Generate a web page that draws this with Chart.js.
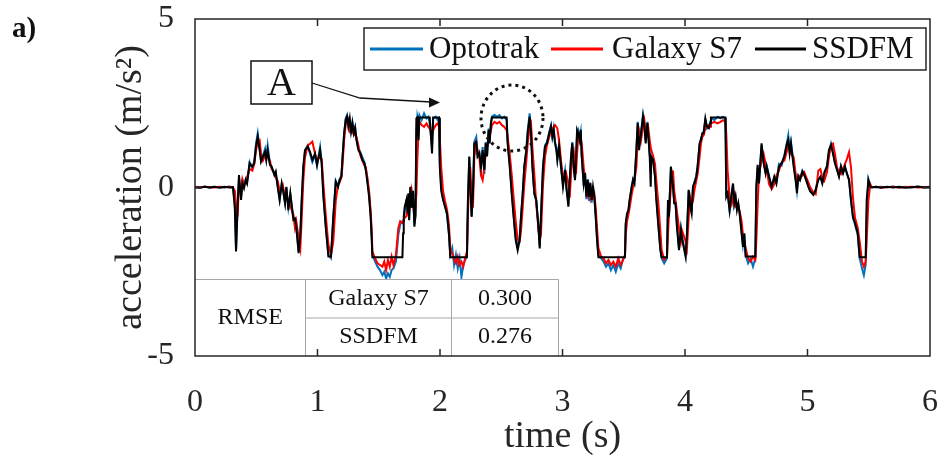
<!DOCTYPE html>
<html>
<head>
<meta charset="utf-8">
<script src="https://cdn.jsdelivr.net/npm/chart.js@4.4.1/dist/chart.umd.min.js"></script>
<style>
  html, body { margin: 0; padding: 0; background: #fff; }
  #wrap { width: 943px; height: 463px; }
</style>
</head>
<body>
<div id="wrap"><canvas id="accelChart" width="943" height="463"></canvas></div>
<script>
// time base (s) shared by the three signals
const time = [
  0.00, 0.04, 0.08, 0.12, 0.16, 0.20, 0.24, 0.28, 0.31,
  0.325, 0.335, 0.347, 0.359, 0.376, 0.387, 0.400, 0.414, 0.425, 0.446,
  0.468, 0.484, 0.498, 0.512, 0.528, 0.539, 0.555, 0.572, 0.582, 0.593,
  0.612, 0.626, 0.648, 0.659, 0.675, 0.691, 0.708, 0.718, 0.735, 0.746,
  0.762, 0.778, 0.803, 0.816, 0.827, 0.846, 0.860, 0.871, 0.884, 0.898,
  0.920, 0.939, 0.958, 0.980, 0.996, 1.021, 1.034, 1.048, 1.067, 1.089,
  1.110, 1.129, 1.149, 1.168, 1.181, 1.195, 1.203, 1.217, 1.230, 1.241,
  1.252, 1.263, 1.274, 1.285, 1.296, 1.307, 1.318, 1.334, 1.350, 1.366,
  1.383, 1.394, 1.405, 1.421, 1.434, 1.443, 1.448, 1.470, 1.490, 1.510,
  1.530, 1.545, 1.560, 1.575, 1.590, 1.605, 1.620, 1.640, 1.660, 1.675,
  1.693, 1.699, 1.704, 1.712, 1.726, 1.737, 1.742, 1.748, 1.758, 1.769,
  1.780, 1.791, 1.800, 1.807, 1.815, 1.825, 1.832, 1.850, 1.870, 1.890,
  1.905, 1.916, 1.935, 1.944, 1.965, 1.980, 1.992, 1.998, 2.010, 2.025,
  2.041, 2.057, 2.073, 2.084, 2.100, 2.115, 2.130, 2.145, 2.160, 2.175,
  2.190, 2.205, 2.220, 2.228, 2.239, 2.247, 2.258, 2.269, 2.280, 2.296,
  2.307, 2.321, 2.335, 2.348, 2.362, 2.373, 2.384, 2.397, 2.405, 2.416,
  2.424, 2.445, 2.465, 2.485, 2.505, 2.525, 2.544, 2.552, 2.569, 2.585,
  2.601, 2.618, 2.634, 2.650, 2.661, 2.675, 2.688, 2.705, 2.716, 2.732,
  2.743, 2.754, 2.770, 2.786, 2.803, 2.814, 2.824, 2.841, 2.857, 2.873,
  2.892, 2.906, 2.917, 2.928, 2.939, 2.950, 2.958, 2.972, 2.988, 3.004,
  3.021, 3.031, 3.048, 3.059, 3.070, 3.080, 3.091, 3.102, 3.110, 3.119,
  3.129, 3.140, 3.149, 3.157, 3.173, 3.184, 3.195, 3.206, 3.217, 3.227,
  3.238, 3.249, 3.260, 3.271, 3.282, 3.293, 3.315, 3.335, 3.355, 3.375,
  3.395, 3.415, 3.435, 3.455, 3.475, 3.495, 3.510, 3.516, 3.527, 3.538,
  3.548, 3.565, 3.576, 3.587, 3.603, 3.614, 3.625, 3.641, 3.657, 3.668,
  3.679, 3.693, 3.701, 3.712, 3.720, 3.725, 3.739, 3.755, 3.766, 3.783,
  3.799, 3.809, 3.830, 3.853, 3.861, 3.869, 3.885, 3.902, 3.912, 3.923,
  3.934, 3.951, 3.967, 3.978, 4.005, 4.016, 4.030, 4.043, 4.054, 4.065,
  4.076, 4.092, 4.103, 4.119, 4.130, 4.141, 4.152, 4.166, 4.179, 4.195,
  4.206, 4.212, 4.240, 4.265, 4.290, 4.310, 4.329, 4.332, 4.337, 4.348,
  4.364, 4.381, 4.392, 4.402, 4.413, 4.424, 4.435, 4.446, 4.462, 4.473,
  4.484, 4.495, 4.515, 4.535, 4.555, 4.574, 4.582, 4.593, 4.604, 4.625,
  4.642, 4.658, 4.667, 4.686, 4.707, 4.729, 4.746, 4.767, 4.789, 4.811,
  4.833, 4.843, 4.854, 4.865, 4.887, 4.903, 4.914, 4.925, 4.939, 4.958,
  4.974, 4.990, 5.007, 5.023, 5.048, 5.067, 5.088, 5.105, 5.121, 5.137,
  5.159, 5.175, 5.192, 5.208, 5.224, 5.241, 5.257, 5.273, 5.290, 5.306,
  5.322, 5.339, 5.355, 5.371, 5.388, 5.410, 5.426, 5.445, 5.460, 5.475,
  5.483, 5.497, 5.513, 5.524, 5.56, 5.60, 5.65, 5.70, 5.75, 5.80,
  5.85, 5.90, 5.95, 6.00
];

// SSDFM estimate (m/s^2), saturates near +/-2.07
const ssdfm = [
  0.01, -0.01, 0.02, 0.00, 0.02, -0.01, 0.02, 0.00, 0.01,
  -0.60, -1.90, -0.60, 0.37, -0.37, 0.12, -0.02, 0.22, 0.12, 0.72,
  0.62, 0.72, 1.21, 1.51, 1.11, 0.77, 0.92, 1.06, 0.82, 1.11,
  0.67, 0.62, 0.37, 0.47, 0.02, -0.37, 0.12, -0.07, -0.47, 0.02,
  -0.67, -0.17, -0.96, -0.92, -1.16, -1.95, -1.36, -0.37, 0.62, 1.11,
  1.21, 1.06, 0.82, 1.01, 0.67, 1.11, 0.72, -0.27, -1.16, -2.05,
  -2.05, -0.87, 0.17, 0.02, 0.22, 0.32, 0.82, 1.61, 2.00, 2.10,
  1.81, 2.05, 1.66, 1.90, 1.61, 1.76, 1.41, 1.11, 1.01, 0.82,
  0.72, 0.52, 0.22, -0.27, -0.87, -1.56, -2.07, -2.07, -2.07, -2.07,
  -2.07, -2.07, -2.07, -2.07, -2.07, -2.07, -2.07, -2.07, -2.07, -2.07,
  -2.07, -1.36, -0.87, -0.57, -0.37, -0.77, -0.17, -0.97, 0.02, -0.60,
  -0.10, -1.16, -0.80, 2.05, 2.08, 1.40, 2.08, 2.08, 2.08, 2.08,
  2.08, 2.08, 1.01, 2.08, 2.08, 2.08, 2.08, 0.62, -0.10, -0.37,
  -0.57, -0.77, -1.36, -2.07, -2.07, -2.07, -2.07, -2.07, -2.07, -2.07,
  -2.07, -2.07, -2.07, -0.37, 0.92, 0.12, -0.87, -0.17, 1.31, 1.36,
  0.92, 1.01, 0.62, 1.11, 0.52, 1.31, 0.92, 1.71, 1.31, 1.90,
  2.08, 2.08, 2.08, 2.08, 2.08, 2.08, 2.08, 1.31, 0.62, -0.17,
  -0.87, -1.56, -1.86, -1.56, -0.87, -0.17, 0.62, 1.11, 1.61, 2.10,
  1.61, 0.62, -0.17, -0.37, -1.16, -1.81, -0.87, 0.62, 1.21, 1.31,
  1.61, 1.81, 1.51, 1.71, 1.31, 1.11, 0.82, 1.21, 0.62, 0.02,
  0.52, 0.02, -0.57, 0.22, 0.92, 1.31, 0.62, 0.22, 0.82, 1.71,
  1.61, 1.41, 1.71, 0.92, 0.12, 0.42, -0.27, 0.22, -0.27, 0.12,
  -0.37, 0.02, -0.27, -0.87, -1.56, -2.07, -2.07, -2.07, -2.07, -2.07,
  -2.07, -2.07, -2.07, -2.07, -2.07, -2.07, -2.07, -1.06, -0.77, -0.67,
  -0.37, 0.02, 0.22, 0.12, 1.11, 1.91, 1.11, 1.61, 2.10, 1.81,
  1.31, 1.91, 1.51, 0.92, 0.02, 0.92, 0.82, 0.32, -0.37, -1.16,
  -1.86, -2.07, -2.07, -2.07, -0.37, -0.87, 0.62, 0.02, -0.47, -0.47,
  -1.16, -1.86, -1.26, -1.56, -2.05, -1.36, -0.07, -0.57, -0.77, 0.02,
  0.12, 0.32, 0.62, 1.31, 1.41, 1.61, 1.61, 2.05, 1.81, 1.76,
  1.91, 2.08, 2.08, 2.08, 2.08, 2.08, 2.08, 1.41, -0.27, -0.17,
  -0.67, -0.17, 0.12, -0.47, -0.27, -0.67, -0.47, -0.77, -1.36, -1.76,
  -1.36, -2.05, -2.05, -2.05, -2.05, -2.05, 0.02, 0.67, 0.12, 1.31,
  0.72, 0.42, 0.62, 0.32, 0.02, 0.32, 0.12, 0.62, 0.72, 0.92,
  1.31, 1.41, 1.01, 1.31, 0.62, 0.22, -0.17, 0.32, 0.22, 0.47,
  0.37, 0.22, 0.02, -0.12, -0.22, -0.07, 0.22, 0.32, 0.12, 0.42,
  0.62, 1.11, 1.26, 1.01, 0.72, 0.52, 0.32, 0.62, 0.42, 0.62,
  0.42, 0.22, -0.37, -0.87, -1.06, -1.36, -2.07, -2.07, -2.07, -2.07,
  -0.37, 0.22, 0.02, 0.00, 0.02, -0.01, 0.02, 0.00, 0.02, -0.01,
  0.01, 0.03, 0.00, 0.01
];

// Optotrak reference (m/s^2)
const optotrak = [
  0.02, 0.00, 0.03, -0.01, 0.02, 0.01, 0.00, 0.03, 0.00,
  -0.50, -1.85, -0.70, 0.30, -0.30, 0.15, 0.05, 0.25, 0.15, 0.75,
  0.55, 0.80, 1.30, 1.61, 1.15, 0.80, 0.95, 1.15, 0.85, 1.25,
  0.70, 0.58, 0.40, 0.45, 0.05, -0.35, 0.10, -0.05, -0.45, 0.00,
  -0.60, -0.20, -0.90, -0.95, -1.20, -1.90, -1.40, -0.40, 0.55, 1.10,
  1.25, 1.00, 0.75, 0.95, 0.65, 1.20, 0.75, -0.20, -1.10, -2.00,
  -2.10, -0.90, 0.20, 0.05, 0.25, 0.35, 0.80, 1.55, 2.05, 2.15,
  1.85, 2.00, 1.70, 1.95, 1.65, 1.80, 1.45, 1.15, 1.05, 0.90,
  0.75, 0.55, 0.30, -0.20, -0.80, -1.50, -2.00, -2.20, -2.35, -2.45,
  -2.60, -2.50, -2.70, -2.55, -2.65, -2.45, -2.40, -2.20, -1.40, -1.10,
  -1.00, -1.00, -0.95, -0.70, -0.40, -0.70, -0.20, -0.95, 0.00, -0.60,
  -0.15, -1.10, -0.85, 1.60, 2.10, 1.90, 2.15, 2.00, 2.20, 2.05,
  2.10, 1.90, 1.20, 2.05, 2.10, 2.00, 2.05, 0.80, 0.00, -0.30,
  -0.55, -0.80, -1.40, -2.00, -1.80, -2.30, -2.00, -2.40, -2.10, -2.65,
  -2.30, -2.15, -2.05, -0.40, 0.90, 0.15, -0.85, -0.20, 1.35, 1.50,
  0.95, 1.05, 0.55, 1.20, 0.40, 1.35, 0.95, 1.75, 1.35, 1.95,
  2.10, 2.15, 2.10, 2.15, 2.05, 2.10, 2.00, 1.40, 0.70, -0.10,
  -0.80, -1.50, -1.75, -1.50, -0.90, -0.20, 0.60, 1.15, 1.70, 2.20,
  1.65, 0.70, -0.20, -0.40, -1.10, -1.75, -0.90, 0.65, 1.25, 1.35,
  1.65, 1.85, 1.50, 1.75, 1.35, 1.20, 0.85, 1.25, 0.60, 0.10,
  0.50, 0.05, -0.50, 0.20, 0.95, 1.35, 0.70, 0.25, 0.80, 1.60,
  1.70, 1.45, 1.65, 0.95, 0.05, 0.45, -0.35, 0.25, -0.40, 0.15,
  -0.45, 0.05, -0.30, -0.85, -1.50, -2.00, -2.10, -2.20, -2.35, -2.25,
  -2.45, -2.30, -2.50, -2.25, -2.40, -2.10, -2.05, -1.10, -0.80, -0.70,
  -0.40, 0.05, 0.25, 0.15, 1.10, 1.95, 1.20, 1.65, 2.15, 1.85,
  1.40, 1.95, 1.55, 0.95, 0.85, 0.85, 0.85, 0.35, -0.30, -1.10,
  -1.80, -2.10, -2.25, -2.10, -0.50, -0.90, 0.60, 0.05, -0.45, -0.50,
  -1.10, -1.80, -1.20, -1.50, -2.00, -1.40, -0.10, -0.60, -0.70, 0.00,
  0.15, 0.35, 0.65, 1.25, 1.45, 1.55, 1.65, 2.00, 1.75, 1.80,
  1.95, 2.05, 2.00, 2.10, 2.05, 2.10, 2.05, 1.50, -0.20, -0.15,
  -0.70, -0.20, 0.10, -0.50, -0.30, -0.60, -0.50, -0.75, -1.30, -1.70,
  -1.40, -2.00, -2.25, -2.10, -2.35, -2.10, -0.10, 0.60, 0.15, 1.25,
  0.75, 0.45, 0.65, 0.35, 0.00, 0.30, 0.15, 0.70, 0.65, 0.95,
  1.35, 1.55, 1.10, 1.35, 0.70, 0.25, -0.10, 0.35, 0.25, 0.50,
  0.40, 0.20, 0.05, -0.10, -0.20, -0.05, 0.25, 0.30, 0.15, 0.45,
  0.65, 1.05, 1.30, 1.05, 0.75, 0.55, 0.35, 0.65, 0.45, 0.60,
  0.40, 0.25, -0.40, -0.90, -1.10, -1.40, -2.10, -2.40, -2.60, -2.30,
  -0.80, 0.25, 0.05, 0.02, 0.00, 0.02, 0.01, 0.03, -0.01, 0.02,
  0.00, 0.02, 0.01, 0.00
];

// Galaxy S7 phone sensor (m/s^2)
const galaxyS7 = [
  0.00, 0.01, 0.02, 0.01, 0.00, 0.02, 0.01, 0.02, 0.00,
  -0.10, -0.50, -0.87, 0.10, -0.10, 0.25, 0.10, 0.15, 0.30, 0.55,
  0.50, 0.70, 1.10, 1.35, 1.40, 1.00, 0.80, 0.95, 0.95, 0.90,
  0.80, 0.55, 0.45, 0.30, 0.20, -0.10, -0.05, 0.05, -0.30, -0.20,
  -0.40, -0.55, -0.80, -1.20, -1.00, -1.50, -1.80, -0.90, 0.20, 0.90,
  1.25, 1.30, 1.36, 1.00, 0.80, 0.90, 0.85, 0.10, -0.80, -1.70,
  -2.00, -1.60, -0.40, 0.10, 0.15, 0.30, 0.60, 1.40, 1.85, 2.00,
  2.05, 1.70, 1.80, 1.65, 1.75, 1.55, 1.50, 1.25, 0.95, 0.80,
  0.65, 0.60, 0.35, -0.10, -0.70, -1.30, -1.90, -2.10, -2.25, -2.30,
  -2.35, -2.20, -2.45, -2.15, -2.35, -2.05, -2.30, -2.00, -1.20, -1.00,
  -1.05, -1.00, -0.95, -0.90, -0.85, -0.60, -0.75, -0.70, -0.50, -0.10,
  -0.40, -0.90, -0.60, -0.20, 0.80, 1.70, 1.95, 1.85, 1.80, 1.90,
  1.80, 1.75, 1.60, 1.70, 1.85, 1.90, 1.80, 1.50, 0.60, -0.10,
  -0.40, -0.65, -1.10, -1.80, -1.95, -2.15, -2.25, -2.05, -2.30, -2.20,
  -2.35, -2.10, -1.90, -0.80, 0.20, 0.60, -0.20, -0.60, 0.90, 1.30,
  1.10, 0.90, 0.35, 0.22, 0.60, 1.00, 1.20, 1.40, 1.55, 1.70,
  1.85, 1.95, 1.90, 1.95, 1.85, 1.80, 1.70, 1.50, 1.00, 0.40,
  -0.30, -1.00, -1.55, -1.60, -1.30, -0.60, 0.10, 0.80, 1.30, 1.80,
  1.90, 1.20, 0.40, -0.50, -1.20, -1.55, -1.40, 0.10, 0.90, 1.25,
  1.50, 1.70, 1.75, 1.80, 1.85, 1.80, 1.75, 1.40, 0.80, 0.30,
  0.25, 0.40, 0.10, -0.30, 0.40, 1.00, 1.10, 0.60, 0.40, 1.00,
  1.50, 1.55, 1.40, 1.30, 0.60, 0.20, 0.10, -0.20, 0.00, -0.30,
  -0.10, -0.30, -0.20, -0.60, -1.20, -1.80, -2.05, -2.10, -2.25, -2.15,
  -2.30, -2.20, -2.35, -2.10, -2.30, -2.15, -2.00, -1.40, -1.00, -0.80,
  -0.60, -0.20, 0.00, 0.20, 0.60, 1.40, 1.70, 1.40, 1.80, 2.00,
  1.70, 1.60, 1.75, 1.40, 1.20, 1.10, 0.95, 0.70, 0.20, -0.50,
  -1.30, -1.85, -2.15, -2.05, -1.40, -0.80, 0.00, 0.50, -0.10, -0.40,
  -0.70, -1.20, -1.60, -1.30, -1.60, -1.80, -0.90, -0.30, -0.50, -0.40,
  -0.10, 0.20, 0.40, 0.90, 1.30, 1.50, 1.55, 1.75, 1.85, 1.85,
  1.80, 1.90, 1.95, 1.90, 1.95, 2.00, 1.95, 1.95, 1.60, 0.50,
  -0.30, -0.50, -0.30, -0.20, -0.55, -0.50, -0.60, -0.70, -1.00, -1.40,
  -1.60, -1.80, -2.10, -2.20, -2.05, -2.15, -1.60, -0.50, 0.40, 0.80,
  1.00, 0.70, 0.55, 0.10, -0.05, 0.10, 0.35, 0.50, 0.75, 0.80,
  1.10, 1.30, 1.25, 1.00, 0.90, 0.40, 0.20, 0.20, 0.35, 0.35,
  0.45, 0.30, 0.15, 0.00, -0.15, -0.20, 0.50, 0.55, 0.30, 0.20,
  0.45, 0.90, 1.25, 1.30, 1.00, 0.60, 0.45, 0.40, 0.55, 0.70,
  0.85, 1.05, 0.60, -0.30, -0.90, -1.20, -1.60, -2.20, -2.35, -2.20,
  -1.60, -0.40, 0.10, 0.01, 0.02, 0.00, 0.01, 0.02, 0.00, 0.01,
  0.02, 0.00, 0.01, 0.02
];

const seriesNames = ['Optotrak', 'Galaxy S7', 'SSDFM'];
const seriesColors = ['#0072BD', '#FF0000', '#000000'];

const rmseRows = ['Galaxy S7', 'SSDFM'];
const rmseValues = ['0.300', '0.276'];

const serif = "'Liberation Serif', 'Times New Roman', serif";

function toPoints(values) {
  return time.map((t, i) => ({ x: t, y: values[i] }));
}

// box, inward ticks, RMSE table, legend and the "A" callout
const figureExtras = {
  id: 'figureExtras',
  afterDraw(chart) {
    const c = chart.ctx;
    const a = chart.chartArea;
    const xs = chart.scales.x;
    const ys = chart.scales.y;

    // RMSE table in the lower-left corner
    const tx = [a.left, 305.5, 451.5, 558.5];
    const ty = [279.5, 318, a.bottom];
    c.save();
    c.fillStyle = '#fff';
    c.fillRect(tx[0], ty[0], tx[3] - tx[0], ty[2] - ty[0]);
    c.strokeStyle = '#a6a6a6';
    c.lineWidth = 1;
    c.beginPath();
    c.moveTo(tx[0], ty[0]); c.lineTo(tx[3], ty[0]);
    c.moveTo(tx[1], ty[1]); c.lineTo(tx[3], ty[1]);
    c.moveTo(tx[1], ty[0]); c.lineTo(tx[1], ty[2]);
    c.moveTo(tx[2], ty[0]); c.lineTo(tx[2], ty[2]);
    c.moveTo(tx[3], ty[0]); c.lineTo(tx[3], ty[2]);
    c.stroke();
    c.fillStyle = '#111';
    c.font = '24px ' + serif;
    c.textAlign = 'center';
    c.textBaseline = 'middle';
    c.fillText('RMSE', (tx[0] + tx[1]) / 2, (ty[0] + ty[2]) / 2);
    rmseRows.forEach((name, i) => {
      const cy = (ty[i] + ty[i + 1]) / 2;
      c.fillText(name, (tx[1] + tx[2]) / 2, cy);
      c.fillText(rmseValues[i], (tx[2] + tx[3]) / 2, cy);
    });
    c.restore();

    // axes box with MATLAB style inward ticks
    c.save();
    c.strokeStyle = '#262626';
    c.lineWidth = 1.5;
    c.strokeRect(a.left, a.top, a.right - a.left, a.bottom - a.top);
    c.beginPath();
    xs.ticks.forEach(tk => {
      const px = xs.getPixelForValue(tk.value);
      if (px <= a.left + 1 || px >= a.right - 1) return;
      c.moveTo(px, a.bottom); c.lineTo(px, a.bottom - 7);
      c.moveTo(px, a.top); c.lineTo(px, a.top + 7);
    });
    ys.ticks.forEach(tk => {
      const py = ys.getPixelForValue(tk.value);
      if (py <= a.top + 1 || py >= a.bottom - 1) return;
      c.moveTo(a.left, py); c.lineTo(a.left + 7, py);
      c.moveTo(a.right, py); c.lineTo(a.right - 7, py);
    });
    c.stroke();
    c.restore();

    // legend box
    c.save();
    const lg = { x: 364, y: 28, w: 562, h: 42 };
    c.fillStyle = '#fff';
    c.fillRect(lg.x, lg.y, lg.w, lg.h);
    c.strokeStyle = '#262626';
    c.lineWidth = 1.5;
    c.strokeRect(lg.x, lg.y, lg.w, lg.h);
    const entries = [
      { x0: 370, x1: 423, tx: 429 },
      { x0: 551, x1: 603, tx: 612 },
      { x0: 755, x1: 806, tx: 812 }
    ];
    const ly = lg.y + lg.h / 2;
    c.font = '31px ' + serif;
    c.textAlign = 'left';
    c.textBaseline = 'middle';
    chart.data.datasets.forEach((ds, i) => {
      const e = entries[i];
      c.strokeStyle = ds.borderColor;
      c.lineWidth = 3;
      c.beginPath();
      c.moveTo(e.x0, ly); c.lineTo(e.x1, ly);
      c.stroke();
      c.fillStyle = '#111';
      c.fillText(ds.label, e.tx, ly + 1);
    });
    c.restore();

    // callout "A" with its arrow
    c.save();
    c.fillStyle = '#fff';
    c.fillRect(251, 61, 61, 43);
    c.strokeStyle = '#111';
    c.lineWidth = 1.5;
    c.strokeRect(251, 61, 61, 43);
    c.fillStyle = '#111';
    c.font = '40px ' + serif;
    c.textAlign = 'center';
    c.textBaseline = 'middle';
    c.fillText('A', 281.5, 84);
    c.lineWidth = 1.3;
    c.beginPath();
    c.moveTo(312, 83);
    c.lineTo(360, 98);
    c.lineTo(431, 102);
    c.stroke();
    c.beginPath();
    c.moveTo(440, 102.5);
    c.lineTo(429, 97.5);
    c.lineTo(429, 107.5);
    c.closePath();
    c.fill();

    // dotted ring around the clipped peak
    c.setLineDash([3, 4]);
    c.lineWidth = 3;
    c.beginPath();
    c.ellipse(512, 118, 31, 33, 0, 0, Math.PI * 2);
    c.stroke();
    c.setLineDash([]);

    // panel letter
    c.font = 'bold 29px ' + serif;
    c.textAlign = 'left';
    c.textBaseline = 'alphabetic';
    c.fillText('a)', 12, 37);
    c.restore();
  }
};

const ctx = document.getElementById('accelChart').getContext('2d');

new Chart(ctx, {
  type: 'line',
  data: {
    datasets: [
      {
        label: seriesNames[0],
        data: toPoints(optotrak),
        borderColor: seriesColors[0],
        borderWidth: 2,
        pointRadius: 0,
        tension: 0,
        order: 3
      },
      {
        label: seriesNames[1],
        data: toPoints(galaxyS7),
        borderColor: seriesColors[1],
        borderWidth: 2,
        pointRadius: 0,
        tension: 0,
        order: 2
      },
      {
        label: seriesNames[2],
        data: toPoints(ssdfm),
        borderColor: seriesColors[2],
        borderWidth: 2,
        pointRadius: 0,
        tension: 0,
        order: 1
      }
    ]
  },
  options: {
    responsive: false,
    animation: false,
    layout: { padding: { top: 19, right: 13, left: 0, bottom: 0 } },
    plugins: {
      legend: { display: false },
      tooltip: { enabled: false }
    },
    scales: {
      x: {
        type: 'linear',
        min: 0,
        max: 6,
        grid: { display: false },
        border: { display: false },
        ticks: {
          stepSize: 1,
          color: '#262626',
          font: { family: serif, size: 32 },
          padding: 19,
          maxRotation: 0
        },
        title: {
          display: true,
          text: 'time (s)',
          color: '#262626',
          font: { family: serif, size: 38 },
          padding: { top: 0, bottom: 3 }
        },
        afterFit(scale) {
          scale.height = 107;
          scale.paddingLeft = 0;
          scale.paddingRight = 0;
        }
      },
      y: {
        min: -5,
        max: 5,
        grid: { display: false },
        border: { display: false },
        ticks: {
          stepSize: 5,
          color: '#262626',
          font: { family: serif, size: 32 },
          padding: 13
        },
        title: {
          display: true,
          text: 'acceleration (m/s²)',
          color: '#262626',
          font: { family: serif, size: 38 },
          padding: { top: 108, bottom: 0 }
        },
        afterFit(scale) {
          scale.width = 195;
          scale.paddingTop = 0;
          scale.paddingBottom = 0;
        }
      }
    }
  },
  plugins: [figureExtras]
});
</script>
</body>
</html>
